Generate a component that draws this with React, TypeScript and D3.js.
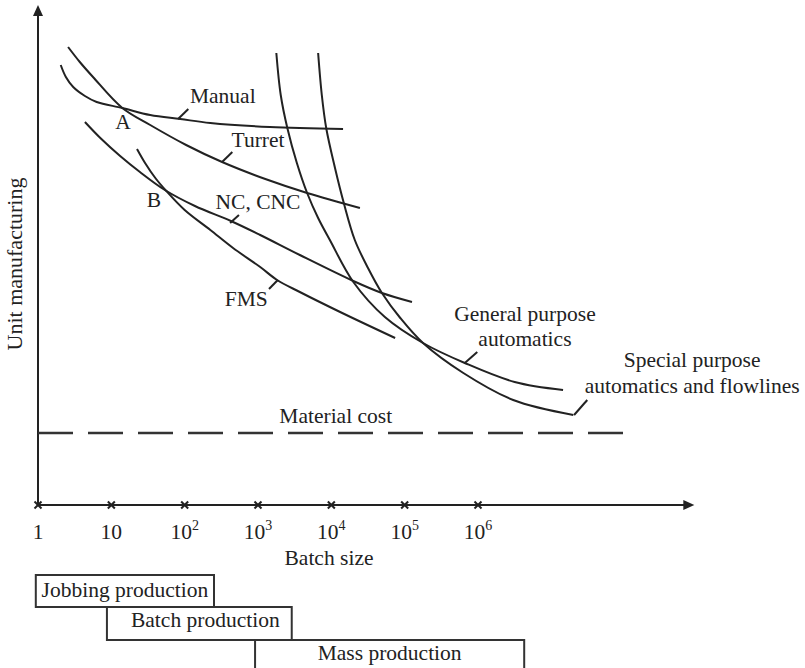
import React from "react";
import * as d3 from "d3";

// x: log10(batch size) in decades, y: relative unit manufacturing cost
const manual: [number, number][] = [
  [0.31, 8.8], [0.38, 8.56], [0.48, 8.36], [0.64, 8.18], [0.8, 8.06], [1.15, 7.94],
  [1.53, 7.8], [1.94, 7.72], [2.35, 7.64], [3.16, 7.56], [4.16, 7.52],
];
const turret: [number, number][] = [
  [0.41, 9.16], [0.57, 8.86], [0.75, 8.56], [1.15, 7.94], [1.53, 7.6], [2.02, 7.2],
  [2.51, 6.86], [3.1, 6.52], [3.67, 6.24], [4.39, 5.94],
];
const ncCnc: [number, number][] = [
  [0.64, 7.66], [0.85, 7.34], [1.12, 6.98], [1.39, 6.66], [1.73, 6.3], [2.14, 5.98],
  [2.63, 5.68], [3.03, 5.4], [3.57, 5.0], [4.3, 4.48], [4.69, 4.24], [5.1, 4.06],
];
const fms: [number, number][] = [
  [1.35, 7.12], [1.46, 6.84], [1.6, 6.54], [1.75, 6.28], [2.0, 5.9], [2.35, 5.5],
  [2.66, 5.14], [3.03, 4.76], [3.26, 4.5], [3.57, 4.26], [4.12, 3.86], [4.87, 3.34],
];
const generalPurpose: [number, number][] = [
  [3.25, 9.04], [3.31, 8.2], [3.4, 7.54], [3.53, 6.84], [3.67, 6.24], [3.82, 5.74],
  [3.98, 5.3], [4.3, 4.46], [4.73, 3.76], [5.25, 3.24], [5.82, 2.84], [6.5, 2.46], [7.16, 2.3],
];
const specialPurpose: [number, number][] = [
  [3.82, 9.04], [3.87, 8.2], [3.93, 7.54], [4.05, 6.74], [4.17, 6.04], [4.32, 5.3],
  [4.5, 4.74], [4.69, 4.24], [4.94, 3.74], [5.25, 3.24], [5.8, 2.64], [6.48, 2.1], [7.3, 1.8],
];
const materialCost = 1.44;
const materialRange = [0, 8];

const tickExponents = [0, 1, 2, 3, 4, 5, 6];
const tickBase = ["1", "10", "10", "10", "10", "10", "10"];
const tickSup = ["", "", "2", "3", "4", "5", "6"];

// leader lines [from, to] in data units
const leaders: [number, number, number, number][] = [
  [1.91, 7.72, 2.05, 7.92],
  [2.51, 6.86, 2.65, 7.06],
  [2.62, 5.64, 2.74, 5.8],
  [3.27, 4.5, 3.15, 4.32],
  [5.82, 2.84, 5.99, 3.06],
  [7.31, 1.8, 7.49, 2.1],
];
const labelText = [
  "Manual", "A", "Turret", "B", "NC, CNC", "FMS",
  "General purpose", "automatics", "Special purpose", "automatics and flowlines", "Material cost",
];
const labelX = [2.52, 1.16, 3.0, 1.58, 3.0, 2.84, 6.64, 6.64, 8.92, 8.92, 4.06];
const labelY = [8.04, 7.52, 7.16, 5.96, 5.92, 3.98, 3.68, 3.18, 2.76, 2.24, 1.64];

const productionNames = ["Jobbing production", "Batch production", "Mass production"];
const productionStart = [-0.03, 0.94, 2.96];
const productionEnd = [2.4, 3.46, 6.63];

const W = 805;
const H = 668;
const FONT = "'Liberation Serif', 'Times New Roman', serif";

export default function App() {
  const x = d3.scaleLinear().domain([0, 6]).range([38, 478]);
  const y = d3.scaleLinear().domain([0, 10]).range([505, 5]);
  const line = d3
    .line<[number, number]>()
    .x((d) => x(d[0]))
    .y((d) => y(d[1]))
    .curve(d3.curveCatmullRom.alpha(0.5));

  const curves = [manual, turret, ncCnc, fms, generalPurpose, specialPurpose];
  const x0 = x(0);
  const y0 = y(0);
  const xEnd = x(8.95);
  const yTop = y(10);
  const stroke = "#222";

  const boxTop = [575, 607, 640];
  const boxH = [32, 33, 34];
  const boxTextY = [597, 627, 660];

  return (
    <svg
      width={W}
      height={H}
      style={{ position: "absolute", left: 0, top: 0, background: "#fff" }}
      fontFamily={FONT}
    >
      <rect x={0} y={0} width={W} height={H} fill="#fff" />
      {/* axes */}
      <line x1={x0} y1={y0} x2={x0} y2={yTop + 8} stroke={stroke} strokeWidth={2} />
      <path d={`M${x0},${yTop} L${x0 - 5},${yTop + 11} L${x0 + 5},${yTop + 11} Z`} fill={stroke} />
      <line x1={x0} y1={y0} x2={xEnd - 8} y2={y0} stroke={stroke} strokeWidth={2} />
      <path d={`M${xEnd},${y0} L${xEnd - 11},${y0 - 5} L${xEnd - 11},${y0 + 5} Z`} fill={stroke} />
      {tickExponents.map((e, i) => (
        <g key={"t" + i}>
          <line x1={x(e) - 3.5} y1={y0 - 3.5} x2={x(e) + 3.5} y2={y0 + 3.5} stroke={stroke} strokeWidth={2} />
          <line x1={x(e) - 3.5} y1={y0 + 3.5} x2={x(e) + 3.5} y2={y0 - 3.5} stroke={stroke} strokeWidth={2} />
          <text x={x(e)} y={539} textAnchor="middle" fontSize={21.5} fill="#222">
            {tickBase[i]}
            {tickSup[i] && (
              <tspan dy={-9} fontSize={14}>
                {tickSup[i]}
              </tspan>
            )}
          </text>
        </g>
      ))}
      <text x={329} y={565} textAnchor="middle" fontSize={21.5} fill="#222">
        Batch size
      </text>
      <text
        transform={`translate(22,264) rotate(-90)`}
        textAnchor="middle"
        fontSize={22}
        fill="#222"
      >
        Unit manufacturing
      </text>

      {/* material cost */}
      <line
        x1={x(materialRange[0])}
        x2={x(materialRange[1])}
        y1={y(materialCost)}
        y2={y(materialCost)}
        stroke="#333"
        strokeWidth={2.5}
        strokeDasharray="35 15"
      />

      {/* curves */}
      {curves.map((c, i) => (
        <path key={"c" + i} d={line(c) || ""} fill="none" stroke={stroke} strokeWidth={2} />
      ))}
      {leaders.map((l, i) => (
        <line key={"l" + i} x1={x(l[0])} y1={y(l[1])} x2={x(l[2])} y2={y(l[3])} stroke={stroke} strokeWidth={2} />
      ))}
      {labelText.map((t, i) => (
        <text key={"lb" + i} x={x(labelX[i])} y={y(labelY[i])} textAnchor="middle" fontSize={21.5} fill="#222">
          {t}
        </text>
      ))}

      {/* production ranges */}
      {productionNames.map((n, i) => (
        <g key={"p" + i}>
          <rect
            x={x(productionStart[i])}
            y={boxTop[i]}
            width={x(productionEnd[i]) - x(productionStart[i])}
            height={boxH[i]}
            fill="none"
            stroke="#333"
            strokeWidth={2}
          />
          <text
            x={(x(productionStart[i]) + x(productionEnd[i])) / 2 + (i === 1 ? 6 : 0)}
            y={boxTextY[i]}
            textAnchor="middle"
            fontSize={21.5}
            fill="#222"
          >
            {n}
          </text>
        </g>
      ))}
    </svg>
  );
}
